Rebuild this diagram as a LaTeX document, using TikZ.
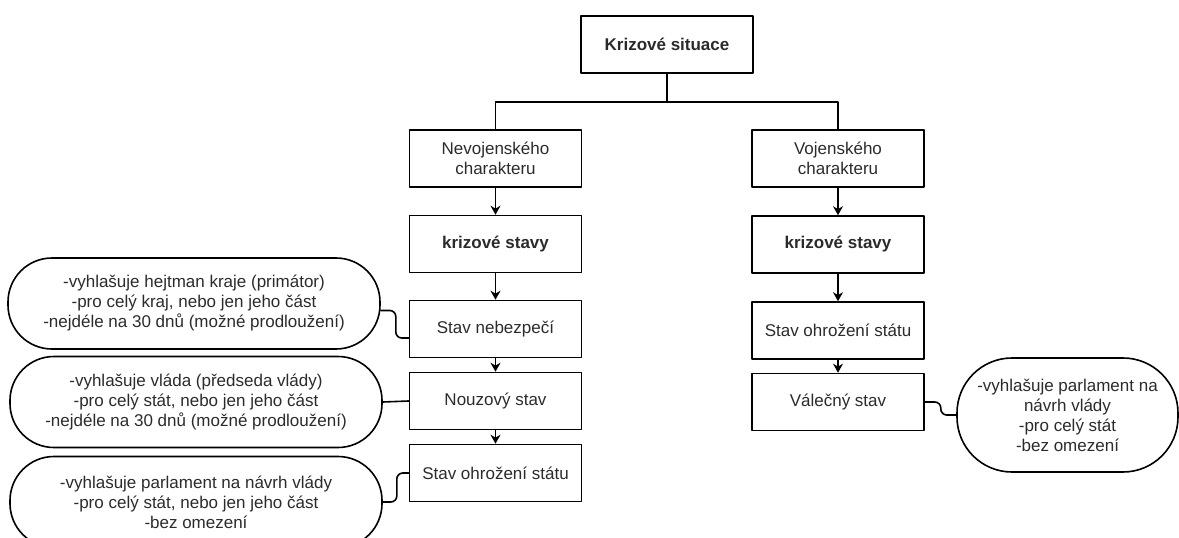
\documentclass[tikz,border=0pt]{standalone}
\usepackage{fontspec}
\setmainfont{Liberation Sans}
\usetikzlibrary{arrows.meta}
\definecolor{txt}{rgb}{0.17,0.17,0.17}

\begin{document}
\begin{tikzpicture}[x=1pt,y=-1pt,line cap=round,line join=round,
    box/.style={draw,line width=1.6pt,minimum width=172pt,minimum height=57pt,inner sep=2pt,
        align=center,text=txt,font=\fontsize{17}{20}\selectfont},
    bubble/.style={draw,line width=1.6pt,rounded corners=44pt,minimum width=372pt,minimum height=91pt,
        inner sep=2pt,align=center,text=txt,font=\fontsize{17}{20}\selectfont},
    arr/.style={-{Stealth[length=9pt,width=10pt]},line width=1.6pt},
    link/.style={line width=1.6pt,rounded corners=6pt}]

    \useasboundingbox (0,0) rectangle (1179,538);

    \node[box] (kriz) at (667,44.5) {\bfseries Krizové situace};

    % left column
    \node[box] (nevoj) at (495.5,158.5) {Nevojenského\\charakteru};
    \node[box] (stavyL) at (495.5,244) {\bfseries krizové stavy};
    \node[box] (nebez) at (495.5,329) {Stav nebezpečí};
    \node[box] (nouz) at (495.5,401) {Nouzový stav};
    \node[box] (ohrozL) at (495.5,473) {Stav ohrožení státu};

    % right column
    \node[box] (voj) at (838,158.5) {Vojenského\\charakteru};
    \node[box] (stavyR) at (838,244.5) {\bfseries krizové stavy};
    \node[box] (ohrozR) at (838,330.5) {Stav ohrožení státu};
    \node[box] (valec) at (838,402) {Válečný stav};

    \node[bubble] (vyhl1) at (194,303.5) {-vyhlašuje hejtman kraje (primátor)\\-pro celý kraj, nebo jen jeho část\\-nejdéle na 30 dnů (možné prodloužení)};
    \node[bubble] (vyhl2) at (196,402) {-vyhlašuje vláda (předseda vlády)\\-pro celý stát, nebo jen jeho část\\-nejdéle na 30 dnů (možné prodloužení)};
    \node[bubble] (vyhl3) at (196,502) {-vyhlašuje parlament na návrh vlády\\-pro celý stát, nebo jen jeho část\\-bez omezení};
    \node[bubble,rounded corners=55pt,minimum width=221pt,minimum height=114pt] (vyhl4) at (1067.5,415)
        {-vyhlašuje parlament na\\návrh vlády\\-pro celý stát\\-bez omezení};

    \draw[line width=1.6pt] (kriz.south) -- ++(0,28) -| (nevoj.north);
    \draw[line width=1.6pt] (kriz.south) -- ++(0,28) -| (voj.north);

    \draw[arr] (nevoj) -- (stavyL);
    \draw[arr] (stavyL) -- (nebez);
    \draw[arr] (nebez) -- (nouz);
    \draw[arr] (nouz) -- (ohrozL);

    \draw[arr] (voj) -- (stavyR);
    \draw[arr] (stavyR) -- (ohrozR);
    \draw[arr] (ohrozR) -- (valec);

    \draw[link] ([yshift=-7pt]vyhl1.east) -- ++(15,0) |- ([yshift=-9pt]nebez.west);
    \draw[link] (vyhl2.east) -- (nouz.west);
    \draw[link] (vyhl3.east) -- ++(14,0) |- (ohrozL.west);
    \draw[link] (valec.east) -- ++(16,0) |- (vyhl4.west);
\end{tikzpicture}
\end{document}
